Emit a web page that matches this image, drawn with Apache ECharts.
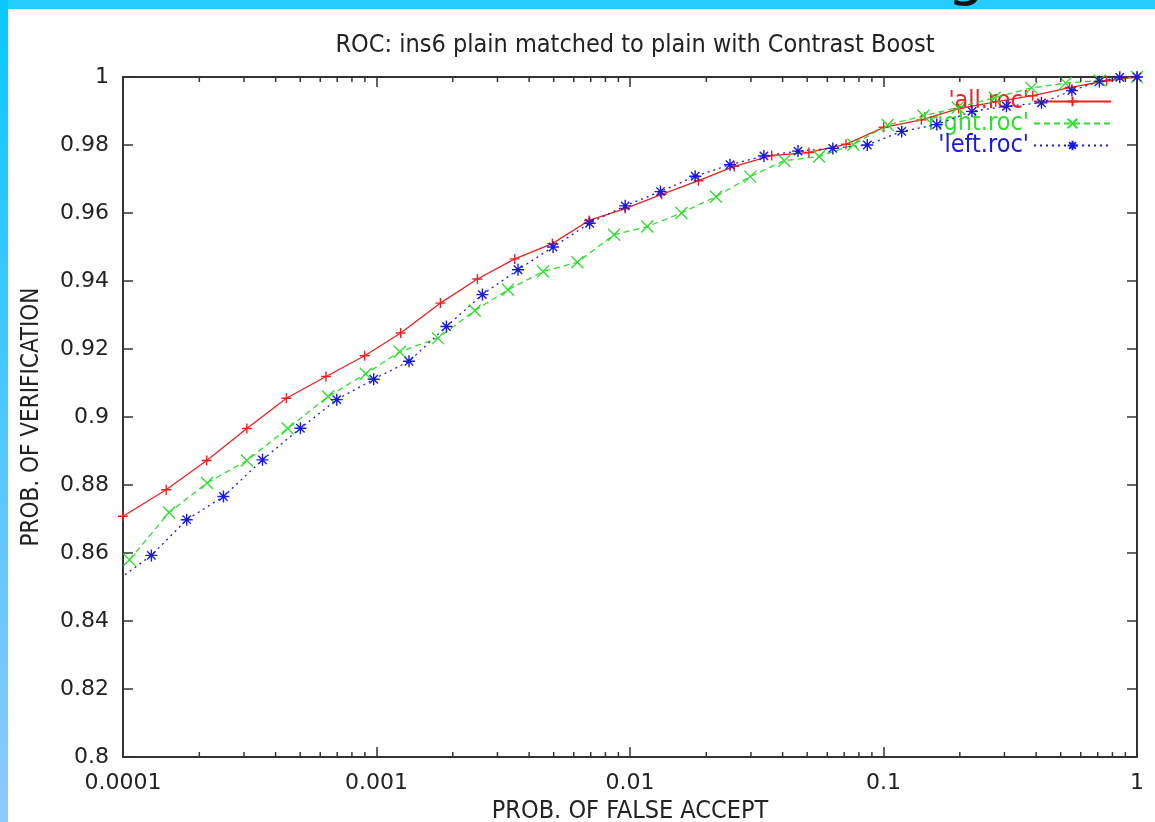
<!DOCTYPE html>
<html>
<head>
<meta charset="utf-8">
<script src="https://cdn.jsdelivr.net/npm/echarts@6/dist/echarts.min.js"></script>
<style>
html,body{margin:0;padding:0;background:#fff;}
#chart{width:1155px;height:822px;}
</style>
</head>
<body>
<div id="chart"></div>
<script>
// ---- data (x = prob. of false accept, y = prob. of verification) ----
const allX = [0.0001, 0.000148, 0.000214, 0.000308, 0.000441, 0.000632, 0.000898, 0.001246, 0.001787, 0.0025, 0.00351, 0.00494, 0.00689, 0.00957, 0.01334, 0.01863, 0.02577, 0.03622, 0.0508, 0.0711, 0.1002, 0.1411, 0.198, 0.277, 0.388, 0.542, 0.759, 1.0];
const allY = [0.8708, 0.8786, 0.8872, 0.8966, 0.9055, 0.9119, 0.918, 0.9247, 0.9335, 0.9406, 0.9465, 0.951, 0.9578, 0.9613, 0.9655, 0.9695, 0.9737, 0.9769, 0.9778, 0.9802, 0.9852, 0.9874, 0.9907, 0.9927, 0.9945, 0.9969, 0.9989, 1.0];

const rightX = [0.000106, 0.000152, 0.0002145, 0.000308, 0.000446, 0.000644, 0.000907, 0.001235, 0.001748, 0.00244, 0.0033, 0.00454, 0.0062, 0.00865, 0.01169, 0.01595, 0.02184, 0.0298, 0.0406, 0.0557, 0.0761, 0.1039, 0.1437, 0.1962, 0.2746, 0.3832, 0.5232, 0.7127, 1.0];
const rightY = [0.858, 0.8719, 0.8806, 0.8872, 0.8966, 0.906, 0.9127, 0.9192, 0.9232, 0.9313, 0.9374, 0.9428, 0.9455, 0.9536, 0.956, 0.96, 0.9648, 0.9707, 0.9754, 0.9766, 0.9801, 0.9859, 0.9886, 0.991, 0.9939, 0.9968, 0.9982, 0.999, 1.0];

const leftX = [0.0000933, 0.0001294, 0.0001784, 0.000249, 0.000355, 0.000501, 0.000697, 0.000975, 0.001343, 0.001887, 0.002617, 0.003615, 0.00497, 0.00693, 0.00957, 0.01319, 0.01808, 0.0248, 0.03374, 0.046, 0.0631, 0.0863, 0.118, 0.1622, 0.2233, 0.3054, 0.4198, 0.5536, 0.7107, 0.855, 1.0];
const leftY = [0.8515, 0.8593, 0.8698, 0.8766, 0.8874, 0.8967, 0.9051, 0.9111, 0.9164, 0.9266, 0.936, 0.9433, 0.95, 0.957, 0.9621, 0.9663, 0.9708, 0.9742, 0.9768, 0.9782, 0.979, 0.98, 0.984, 0.986, 0.9899, 0.9914, 0.9924, 0.996, 0.9987, 0.9999, 1.0];

const seriesNames = ["'all.roc'", "'right.roc'", "'left.roc'"];
const minorMultipliers = [2, 3, 4, 5, 6, 7, 8, 9];
const minorDecades = [0.0001, 0.001, 0.01, 0.1];

// ---- chart ----
const RED = '#ee2020', GREEN = '#30dd30', BLUE = '#1818e0', AXIS = '#333';
const FONT_NUM = "'DejaVu Sans', sans-serif";
const FONT_TXT = "'Liberation Sans Narrow', 'DejaVu Sans Condensed', 'Liberation Sans', sans-serif";

function zip(xs, ys) { return xs.map((x, i) => [x, ys[i]]); }
const minorTicks = [];
minorDecades.forEach(d => minorMultipliers.forEach(m => minorTicks.push([+(d * m).toPrecision(3)])));

const PLUS = 'path://M5,0L5,10M0,5L10,5';
const CROSS = 'path://M0,0L10,10M10,0L0,10';
const STAR = 'path://M5,0L5,10M0,5L10,5M1.5,1.5L8.5,8.5M8.5,1.5L1.5,8.5';

const chart = echarts.init(document.getElementById('chart'), null, {renderer: 'canvas'});

const axisCommon = {
  axisLine: {show: true, onZero: false, lineStyle: {color: AXIS, width: 2}},
  axisTick: {show: true, inside: true, length: 10, lineStyle: {color: AXIS, width: 1.5}},
  splitLine: {show: false}
};

function lineSeries(name, data, color, type, symbol, size, width) {
  return {
    name: name, type: 'line', data: data,
    symbol: symbol, symbolSize: size, showSymbol: true,
    clip: true, animation: false, z: 3,
    lineStyle: {color: color, width: width, type: type},
    itemStyle: {color: 'rgba(0,0,0,0)', borderColor: color, borderWidth: 1.4},
    emphasis: {disabled: true}
  };
}

function minorRender(params, api) {
  const x = api.value(0);
  const b = api.coord([x, 0.8]);
  const t = api.coord([x, 1.0]);
  return {
    type: 'group',
    children: [
      {type: 'line', shape: {x1: b[0], y1: b[1], x2: b[0], y2: b[1] - 5}, style: {stroke: AXIS, lineWidth: 1.5}},
      {type: 'line', shape: {x1: t[0], y1: t[1], x2: t[0], y2: t[1] + 5}, style: {stroke: AXIS, lineWidth: 1.5}}
    ]
  };
}

const option = {
  backgroundColor: '#fff',
  animation: false,
  title: {
    text: 'ROC: ins6 plain matched to plain with Contrast Boost',
    left: 630, top: 28, textAlign: 'center',
    textStyle: {fontFamily: FONT_TXT, fontSize: 25, fontWeight: 'normal', color: '#222'}
  },
  grid: {left: 123, right: 18, top: 77, bottom: 65, containLabel: false, outerBoundsMode: 'none'},
  legend: {
    orient: 'vertical', right: 43, top: 89, align: 'right', z: 1, padding: 0,
    itemWidth: 77, itemHeight: 12, itemGap: -3,
    selectedMode: false,
    textStyle: {fontFamily: FONT_TXT, fontSize: 25, lineHeight: 19, padding: [0, 0, 0, 0]},
    data: [
      {name: seriesNames[0], textStyle: {color: RED}},
      {name: seriesNames[1], textStyle: {color: GREEN}},
      {name: seriesNames[2], textStyle: {color: BLUE}}
    ]
  },
  xAxis: [
    Object.assign({
      type: 'log', logBase: 10, min: 0.0001, max: 1, position: 'bottom',
      name: 'PROB. OF FALSE ACCEPT', nameLocation: 'middle', nameGap: 42,
      nameTextStyle: {fontFamily: FONT_TXT, fontSize: 25, color: '#222'},
      axisLabel: {show: true, margin: 15, fontFamily: FONT_NUM, fontSize: 22, color: '#222'}
    }, axisCommon),
    Object.assign({
      type: 'log', logBase: 10, min: 0.0001, max: 1, position: 'top',
      axisLabel: {show: false}
    }, axisCommon)
  ],
  yAxis: [
    Object.assign({
      type: 'value', min: 0.8, max: 1, interval: 0.02, position: 'left',
      name: 'PROB. OF VERIFICATION', nameLocation: 'middle', nameGap: 79, nameRotate: 90,
      nameTextStyle: {fontFamily: FONT_TXT, fontSize: 24, color: '#222'},
      axisLabel: {show: true, margin: 14, fontFamily: FONT_NUM, fontSize: 22, color: '#222'}
    }, axisCommon),
    Object.assign({
      type: 'value', min: 0.8, max: 1, interval: 0.02, position: 'right',
      axisLabel: {show: false}
    }, axisCommon)
  ],
  series: [
    lineSeries(seriesNames[0], zip(allX, allY), RED, 'solid', PLUS, 10, 1.3),
    lineSeries(seriesNames[1], zip(rightX, rightY), GREEN, [6, 4], CROSS, 12, 1.3),
    lineSeries(seriesNames[2], zip(leftX, leftY), BLUE, [2, 4], STAR, 12, 1.3),
    {
      type: 'custom', name: 'minorTicks', data: minorTicks, renderItem: minorRender,
      clip: false, silent: true, z: 4, animation: false, tooltip: {show: false}
    }
  ],
  graphic: [
    {type: 'rect', left: 0, top: 0, z: 100, shape: {width: 1155, height: 9}, style: {fill: '#22ccff'}},
    {type: 'text', x: 966, y: -23, z: 101, silent: true,
     style: {text: 'g', fill: '#111', font: '60px "DejaVu Sans", sans-serif', align: 'center', verticalAlign: 'middle'}},
    {type: 'rect', left: 0, top: 0, z: 100, shape: {width: 8, height: 822},
     style: {fill: new echarts.graphic.LinearGradient(0, 0, 0, 1, [{offset: 0, color: '#08c8ff'}, {offset: 1, color: '#90c8ff'}])}}
  ]
};
chart.setOption(option);
</script>
</body>
</html>
